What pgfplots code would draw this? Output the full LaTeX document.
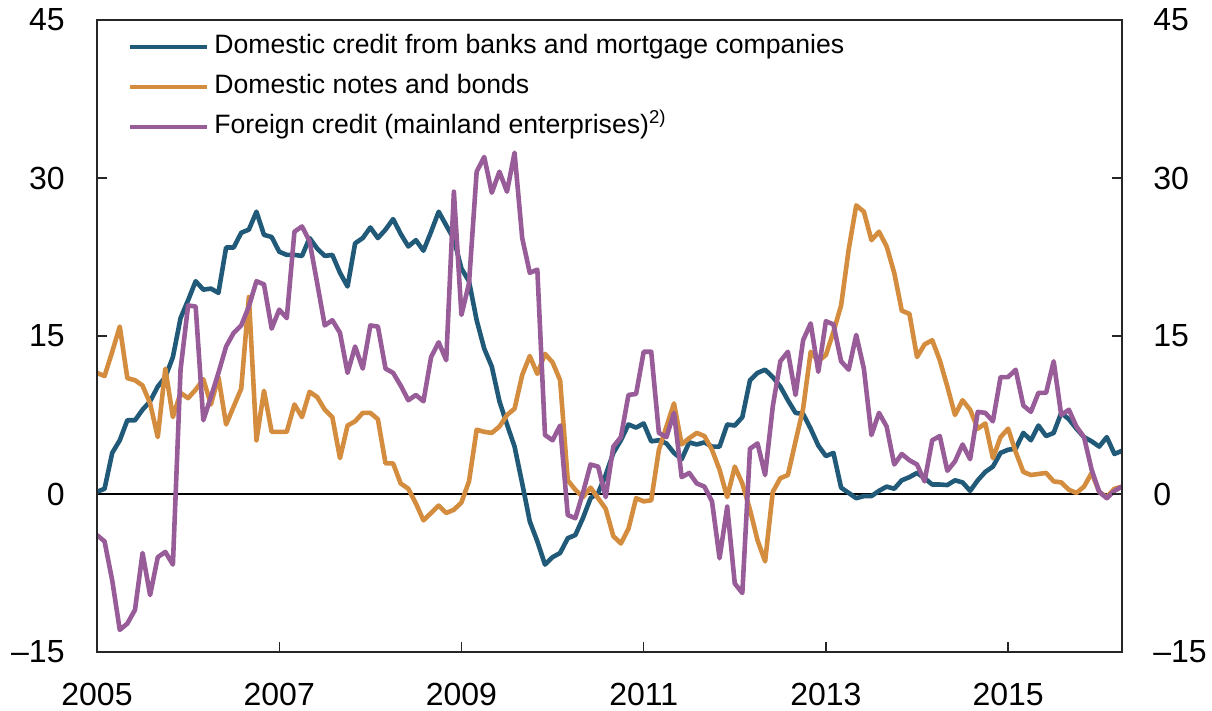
\documentclass[border=0pt]{standalone}
\usepackage{fontspec}
\setmainfont{Liberation Sans}
\usepackage{pgfplots}
\usepackage{pgfplotstable}
\pgfplotsset{compat=1.18}
\definecolor{cblue}{RGB}{32,90,120}
\definecolor{corange}{RGB}{212,140,62}
\definecolor{cpurple}{RGB}{152,92,152}
\pgfplotstableread{
t b o p
2005.000 0.2 11.5 -3.9
2005.083 0.5 11.2 -4.5
2005.167 3.9 13.5 -8.2
2005.250 5.1 15.9 -12.9
2005.333 7.0 11.0 -12.3
2005.417 7.0 10.8 -11.0
2005.500 8.0 10.3 -5.6
2005.583 8.8 8.6 -9.6
2005.667 10.2 5.4 -6.0
2005.750 11.1 11.9 -5.5
2005.833 13.0 7.3 -6.7
2005.917 16.7 9.6 11.8
2006.000 18.4 9.1 17.9
2006.083 20.2 9.9 17.8
2006.167 19.4 10.9 7.0
2006.250 19.5 8.5 9.2
2006.333 19.1 11.1 11.5
2006.417 23.4 6.6 14.0
2006.500 23.4 8.3 15.3
2006.583 24.8 10.0 16.0
2006.667 25.1 18.7 17.8
2006.750 26.8 5.1 20.2
2006.833 24.6 9.8 19.9
2006.917 24.4 5.9 15.7
2007.000 23.0 5.9 17.5
2007.083 22.7 5.9 16.7
2007.167 22.7 8.5 24.9
2007.250 22.6 7.3 25.4
2007.333 24.3 9.7 24.0
2007.417 23.3 9.2 20.0
2007.500 22.6 8.0 16.0
2007.583 22.7 7.3 16.5
2007.667 21.0 3.4 15.3
2007.750 19.7 6.5 11.5
2007.833 23.8 6.9 14.0
2007.917 24.3 7.7 11.9
2008.000 25.3 7.7 16.0
2008.083 24.3 7.1 15.9
2008.167 25.1 2.9 11.9
2008.250 26.1 2.9 11.5
2008.333 24.7 1.0 10.3
2008.417 23.5 0.5 8.9
2008.500 24.1 -0.9 9.4
2008.583 23.1 -2.5 8.8
2008.667 24.9 -1.8 13.0
2008.750 26.8 -1.1 14.4
2008.833 25.5 -1.8 12.7
2008.917 24.2 -1.5 28.7
2009.000 21.4 -0.8 17.0
2009.083 20.2 1.2 20.0
2009.167 16.5 6.1 30.6
2009.250 13.8 5.9 32.0
2009.333 12.1 5.8 28.6
2009.417 8.8 6.4 30.6
2009.500 6.6 7.5 28.7
2009.583 4.5 8.1 32.4
2009.667 1.0 11.3 24.3
2009.750 -2.6 13.1 21.0
2009.833 -4.5 11.4 21.3
2009.917 -6.7 13.3 5.6
2010.000 -6.0 12.5 5.1
2010.083 -5.6 10.8 6.5
2010.167 -4.2 1.3 -2.0
2010.250 -3.9 0.4 -2.3
2010.333 -2.3 -0.3 0.1
2010.417 -0.4 0.6 2.8
2010.500 0.1 -0.4 2.6
2010.583 1.8 -1.4 -0.3
2010.667 3.9 -4.0 4.5
2010.750 5.1 -4.7 5.4
2010.833 6.6 -3.3 9.4
2010.917 6.3 -0.4 9.5
2011.000 6.7 -0.7 13.5
2011.083 5.0 -0.6 13.5
2011.167 5.1 4.2 5.8
2011.250 4.8 6.4 5.4
2011.333 3.9 8.6 7.7
2011.417 3.3 4.7 1.6
2011.500 4.9 5.3 2.0
2011.583 4.7 5.8 1.0
2011.667 4.9 5.5 0.7
2011.750 4.5 4.2 -0.7
2011.833 4.5 2.3 -6.1
2011.917 6.6 -0.3 -1.2
2012.000 6.5 2.6 -8.5
2012.083 7.3 1.0 -9.4
2012.167 10.8 -1.5 4.3
2012.250 11.5 -4.4 4.8
2012.333 11.8 -6.4 1.8
2012.417 11.1 0.2 8.3
2012.500 10.2 1.5 12.6
2012.583 8.9 1.8 13.5
2012.667 7.7 5.0 9.4
2012.750 7.6 8.1 14.6
2012.833 6.2 13.5 16.2
2012.917 4.6 12.6 11.6
2013.000 3.6 13.2 16.4
2013.083 3.9 15.4 16.1
2013.167 0.6 17.9 12.6
2013.250 0.1 23.2 11.8
2013.333 -0.4 27.4 15.1
2013.417 -0.2 26.8 11.9
2013.500 -0.2 24.1 5.6
2013.583 0.3 24.9 7.7
2013.667 0.7 23.5 6.4
2013.750 0.5 21.0 2.8
2013.833 1.3 17.4 3.8
2013.917 1.6 17.1 3.2
2014.000 2.0 13.0 2.8
2014.083 1.5 14.2 1.2
2014.167 0.9 14.6 5.1
2014.250 0.9 12.7 5.5
2014.333 0.85 10.2 2.2
2014.417 1.3 7.5 3.1
2014.500 1.1 8.9 4.7
2014.583 0.3 8.0 3.3
2014.667 1.3 6.2 7.8
2014.750 2.1 6.7 7.7
2014.833 2.6 3.4 6.9
2014.917 3.9 5.4 11.1
2015.000 4.2 6.2 11.1
2015.083 4.3 4.0 11.8
2015.167 5.8 2.1 8.4
2015.250 5.1 1.8 7.8
2015.333 6.5 1.9 9.6
2015.417 5.5 2.0 9.6
2015.500 5.8 1.2 12.6
2015.583 7.7 1.1 7.5
2015.667 7.1 0.4 8.0
2015.750 6.2 0.1 6.4
2015.833 5.4 0.7 5.4
2015.917 5.0 2.0 2.3
2016.000 4.5 0.2 0.2
2016.083 5.4 -0.3 -0.4
2016.167 3.8 0.5 0.3
2016.250 4.1 0.7 0.7
}\datatable

\pgfplotsset{
  common/.style={
    at={(0,0)}, anchor=south west,
    scale only axis, width=512.5pt, height=316pt,
    xmin=2005, xmax=2016.25, ymin=-15, ymax=45,
    ytick={-15,0,15,30,45},
    yticklabels={–15,0,15,30,45},
    tick align=inside, major tick length=5pt,
    axis line style={draw=black!85, line width=0.7pt},
    every tick/.style={black!85, line width=0.7pt},
    ticklabel style={font=\fontsize{16}{19}\selectfont, inner sep=0pt},
  }
}

\begin{document}
\begin{tikzpicture}
\useasboundingbox (-48.5pt,-29.5pt) rectangle (557.5pt,326pt);
\begin{axis}[common,
  xtick={2005,2007,2009,2011,2013,2015},
  xticklabels={2005,2007,2009,2011,2013,2015},
  xtick pos=left, ytick pos=left,
  yticklabel style={xshift=-16pt},
  xticklabel style={yshift=-15.5pt},
  legend style={at={(0,1)}, anchor=north west, xshift=15.5pt, yshift=-7pt,
    draw=none, fill=none, inner sep=0pt,
    font=\fontsize{13.3}{16}\selectfont,
    row sep=7.4pt, column sep=2.5pt,
    nodes={inner sep=0pt, text height=9.6pt, text depth=3pt}},
  legend cell align=left,
  legend image code/.code={\draw[#1, line width=2pt] (0pt,0pt) -- (38.5pt,0pt);},
]
\addplot[black, line width=0.9pt, forget plot] coordinates {(2005,0) (2016.25,0)};
\addplot[cblue, line width=2.3pt, line join=round] table[x=t, y=b] {\datatable};
\addlegendentry{Domestic credit from banks and mortgage companies}
\addplot[corange, line width=2.3pt, line join=round] table[x=t, y=o] {\datatable};
\addlegendentry{Domestic notes and bonds}
\addplot[cpurple, line width=2.3pt, line join=round] table[x=t, y=p] {\datatable};
\addlegendentry{Foreign credit (mainland enterprises)\textsuperscript{2)}}
\end{axis}
\begin{axis}[common,
  xtick=\empty,
  ytick pos=right, yticklabel pos=right,
  yticklabel style={xshift=15.5pt},
]
\end{axis}
\end{tikzpicture}
\end{document}
